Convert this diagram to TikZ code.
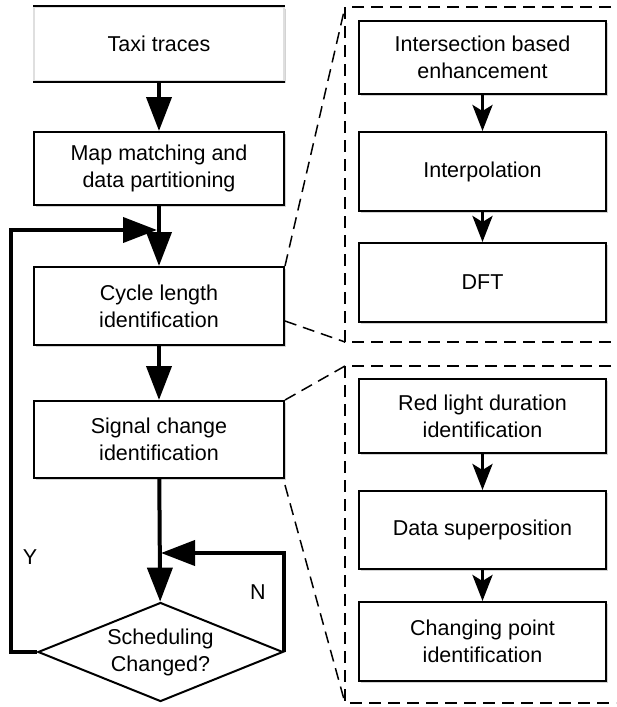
\documentclass[tikz,border=0pt]{standalone}
\usepackage{fontspec}
\setmainfont{Liberation Sans}
\usetikzlibrary{shapes.geometric,arrows.meta,shadows}

\begin{document}
\begin{tikzpicture}[x=1pt,y=-1pt,line join=miter,
    font=\fontsize{21.5}{27}\selectfont,
    every node/.style={align=center,inner sep=0pt},
    stage/.style={draw,line width=2pt,fill=white,minimum width=250pt,
                  drop shadow={shadow xshift=1.5pt,shadow yshift=-2pt,opacity=0.35}},
    substage/.style={stage,minimum width=247pt},
    decision/.style={diamond,draw,line width=2pt,fill=white,aspect=2.45,
                     minimum width=245pt,minimum height=99pt},
    flow/.style={-{Triangle[length=34pt,width=25pt]},line width=4pt},
    subflow/.style={-{Stealth[length=26pt,width=20pt,inset=6pt]},line width=3.5pt},
    zoom/.style={line width=1.5pt,dash pattern=on 12pt off 7pt}]
    \useasboundingbox (0,0) rectangle (616,707);
    \clip (0,0) rectangle (616,707);

    % main flow
    \node[stage,minimum height=74pt,draw=gray!25] (taxi) at (159,44) {Taxi traces};
    \draw[line width=2pt] (taxi.north west) -- (taxi.north east)
                          (taxi.south west) -- (taxi.south east);
    \node[stage,minimum height=73pt] (map)    at (159,168.5) {Map matching and\\data partitioning};
    \node[stage,minimum height=78pt] (cycle)  at (159,306)   {Cycle length\\identification};
    \node[stage,minimum height=77pt] (signal) at (159,439.5) {Signal change\\identification};
    \node[decision] (sched) at (160.5,652) {Scheduling\\Changed?};

    % details of cycle length identification
    \node[substage,minimum height=73pt] (enh)    at (482.5,57.5)  {Intersection based\\enhancement};
    \node[substage,minimum height=79pt] (interp) at (482.5,171.5) {Interpolation};
    \node[substage,minimum height=79pt] (dft)    at (482.5,282.5) {DFT};

    % details of signal change identification
    \node[substage,minimum height=74pt] (red)   at (482.5,416)   {Red light duration\\identification};
    \node[substage,minimum height=78pt] (super) at (482.5,530)   {Data superposition};
    \node[substage,minimum height=79pt] (chg)   at (482.5,641.5) {Changing point\\identification};

    \coordinate (join)  at (157,230);
    \coordinate (merge) at (161,553);
    \node (yes) at (30,557)  {Y};
    \node (no)  at (258,592) {N};

    \draw[flow] (taxi) -- (map);
    \draw[flow] (map) -- (cycle);
    \draw[flow] (cycle) -- (signal);
    \draw[flow] (signal) -- (sched);
    \draw[flow] (sched.west) -| (11,230) -- (join);
    \draw[flow] (sched.east) |- (merge);

    \draw[subflow] (enh) -- (interp);
    \draw[subflow] (interp) -- (dft);
    \draw[subflow] (red) -- (super);
    \draw[subflow] (super) -- (chg);

    % zoom frames
    \draw[zoom] (630,7) -- (345,7) -- (345,342) -- (630,342);
    \draw[zoom] (cycle.north east) -- (345,7);
    \draw[zoom] (cycle.south east) ++(0,-25) -- (345,342);
    \draw[zoom] (630,366) -- (345,366) -- (345,703) -- (630,703);
    \draw[zoom] (signal.north east) -- (345,366);
    \draw[zoom] (signal.south east) ++(0,6) -- (345,703);
\end{tikzpicture}
\end{document}
